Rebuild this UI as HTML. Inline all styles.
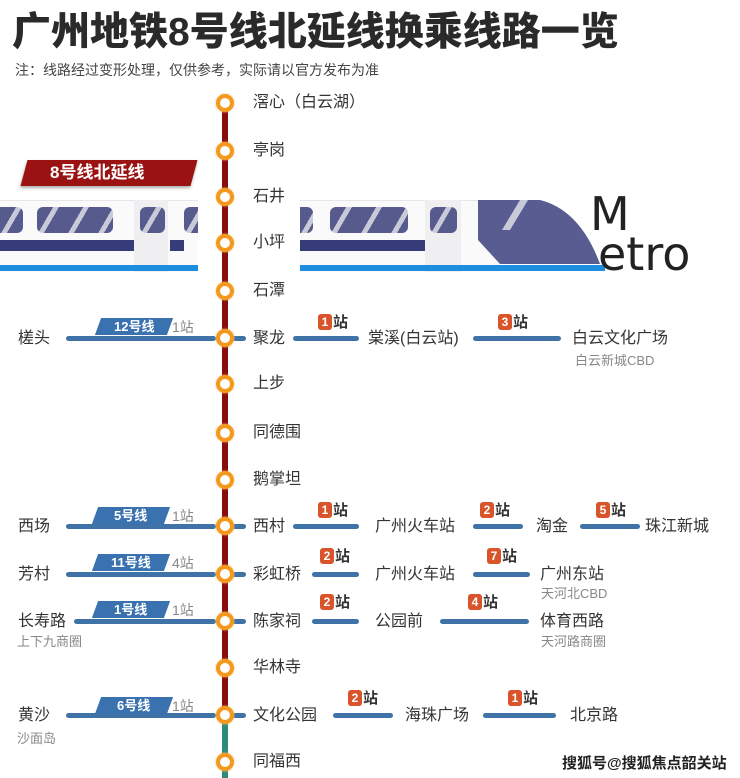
<!DOCTYPE html>
<html><head><meta charset="utf-8"><style>
*{margin:0;padding:0;box-sizing:border-box}
body{width:740px;height:778px;background:#fff;position:relative;overflow:hidden;font-family:"Liberation Sans","Noto Sans CJK SC",sans-serif;color:#333}
.a{position:absolute;white-space:nowrap}
.t{font-size:16px;line-height:20px;color:#333}
.s{font-size:13px;line-height:16px;color:#888}
.h{position:absolute;height:5px;background:#3f72a6;border-radius:3px}
.b{position:absolute;font-size:15px;font-weight:bold;color:#333;line-height:18px;white-space:nowrap}
.b i{display:inline-block;font-style:normal;background:#d9532b;color:#fff;border-radius:3px;width:14px;height:16px;text-align:center;font-size:12px;line-height:16px;margin-right:1px;vertical-align:1px}
.tag{position:absolute;height:17px;width:72px;background:#3a72b0;transform:skewX(-20deg);color:#fff;font-size:13px;font-weight:bold;text-align:center;line-height:17px}
.tag span{display:inline-block;transform:skewX(20deg)}
.c{position:absolute;width:18px;height:18px;border:4px solid #f39a1e;border-radius:50%;background:#fff;box-shadow:0 0 2px #f7c27a}
.w{position:absolute;background:#565a8c repeating-linear-gradient(120deg,transparent 0 14px,#c9cad9 14px 19px,transparent 19px 26px);border-radius:6px}
</style></head><body>
<div class="a" style="left:12px;top:10px;font-size:39px;font-weight:900;line-height:46px;color:#2a2a2a">广州地铁8号线北延线换乘线路一览</div>
<div class="a" style="left:15px;top:60px;font-size:14px;color:#444">注：线路经过变形处理，仅供参考，实际请以官方发布为准</div>

<!-- train -->
<div class="a" style="left:0;top:200px;width:198px;height:72px;background:#fafafb;border-top:1px solid #e6e6ea"></div>
<div class="a" style="left:300px;top:200px;width:200px;height:72px;background:#fafafb;border-top:1px solid #e6e6ea"></div>
<div class="w" style="left:0;top:207px;width:23px;height:26px;border-radius:0 6px 6px 0"></div>
<div class="w" style="left:37px;top:207px;width:76px;height:26px"></div>
<div class="a" style="left:134px;top:200px;width:34px;height:72px;background:#efeff2"></div>
<div class="w" style="left:140px;top:207px;width:25px;height:26px"></div>
<div class="w" style="left:184px;top:207px;width:14px;height:26px;border-radius:6px 0 0 6px"></div>
<div class="a" style="left:0;top:240px;width:134px;height:11px;background:#363c78"></div>
<div class="a" style="left:170px;top:240px;width:14px;height:11px;background:#363c78"></div>
<div class="a" style="left:0;top:265px;width:198px;height:6px;background:#1e8de0"></div>
<div class="w" style="left:300px;top:207px;width:13px;height:26px;border-radius:0 6px 6px 0"></div>
<div class="w" style="left:330px;top:207px;width:78px;height:26px"></div>
<div class="a" style="left:425px;top:200px;width:36px;height:72px;background:#efeff2"></div>
<div class="w" style="left:430px;top:207px;width:27px;height:26px"></div>
<div class="a" style="left:300px;top:240px;width:125px;height:11px;background:#363c78"></div>
<svg class="a" style="left:460px;top:200px" width="150" height="75"><path d="M18 0 L80 0 Q120 10 140 64 L40 64 L18 40 Z" fill="#585c90"/><path d="M60 0 L68 0 L50 30 L42 30Z" fill="#c9cad9"/></svg>
<div class="a" style="left:300px;top:265px;width:305px;height:6px;background:#1e8de0"></div>
<div class="a" style="left:590px;top:190px;font-size:46px;line-height:48px;color:#222;font-family:'DejaVu Sans',sans-serif">M</div>
<div class="a" style="left:598px;top:230px;font-size:46px;line-height:48px;color:#222;font-family:'DejaVu Sans',sans-serif">etro</div>

<!-- 8号线北延线 label -->
<div class="a" style="left:24px;top:160px;width:170px;height:26px;background:#9a1212;transform:skewX(-15deg);box-shadow:0 2px 3px #aaa"></div>
<div class="a" style="left:50px;top:162px;font-size:17px;font-weight:bold;color:#fff;line-height:22px">8号线北延线</div>

<!-- vertical line -->
<div class="a" style="left:222px;top:100px;width:6px;height:615px;background:#8b0c0c"></div>
<div class="a" style="left:222px;top:715px;width:6px;height:63px;background:#2e8a78"></div>

<!-- stations -->
<div class="c" style="left:216px;top:94px"></div><div class="a t" style="left:253px;top:93px">滘心（白云湖）</div>
<div class="c" style="left:216px;top:142px"></div><div class="a t" style="left:253px;top:141px">亭岗</div>
<div class="c" style="left:216px;top:188px"></div><div class="a t" style="left:253px;top:187px">石井</div>
<div class="c" style="left:216px;top:234px"></div><div class="a t" style="left:253px;top:233px">小坪</div>
<div class="c" style="left:216px;top:282px"></div><div class="a t" style="left:253px;top:281px">石潭</div>
<div class="c" style="left:216px;top:375px"></div><div class="a t" style="left:253px;top:374px">上步</div>
<div class="c" style="left:216px;top:424px"></div><div class="a t" style="left:253px;top:423px">同德围</div>
<div class="c" style="left:216px;top:471px"></div><div class="a t" style="left:253px;top:470px">鹅掌坦</div>
<div class="c" style="left:216px;top:659px"></div><div class="a t" style="left:253px;top:658px">华林寺</div>
<div class="c" style="left:216px;top:753px"></div><div class="a t" style="left:253px;top:752px">同福西</div>

<!-- Row 338 -->
<div class="a t" style="left:18px;top:329px">槎头</div>
<div class="h" style="left:66px;top:336px;width:150px"></div>
<div class="tag" style="left:98px;top:318px"><span>12号线</span></div>
<div class="a s" style="left:172px;top:319px;font-size:14px">1站</div>
<div class="h" style="left:232px;top:336px;width:14px"></div>
<div class="c" style="left:216px;top:329px"></div>
<div class="a t" style="left:253px;top:329px">聚龙</div>
<div class="h" style="left:293px;top:336px;width:66px"></div><div class="b" style="left:318px;top:314px"><i>1</i>站</div>
<div class="a t" style="left:368px;top:329px">棠溪(白云站)</div>
<div class="h" style="left:473px;top:336px;width:88px"></div><div class="b" style="left:498px;top:314px"><i>3</i>站</div>
<div class="a t" style="left:572px;top:329px">白云文化广场</div>
<div class="a s" style="left:575px;top:353px">白云新城CBD</div>

<!-- Row 526 -->
<div class="a t" style="left:18px;top:517px">西场</div>
<div class="h" style="left:66px;top:524px;width:150px"></div>
<div class="tag" style="left:95px;top:507px"><span>5号线</span></div>
<div class="a s" style="left:172px;top:508px;font-size:14px">1站</div>
<div class="h" style="left:232px;top:524px;width:14px"></div>
<div class="c" style="left:216px;top:517px"></div>
<div class="a t" style="left:253px;top:517px">西村</div>
<div class="h" style="left:293px;top:524px;width:66px"></div><div class="b" style="left:318px;top:502px"><i>1</i>站</div>
<div class="a t" style="left:375px;top:517px">广州火车站</div>
<div class="h" style="left:473px;top:524px;width:50px"></div><div class="b" style="left:480px;top:502px"><i>2</i>站</div>
<div class="a t" style="left:536px;top:517px">淘金</div>
<div class="h" style="left:580px;top:524px;width:60px"></div><div class="b" style="left:596px;top:502px"><i>5</i>站</div>
<div class="a t" style="left:645px;top:517px">珠江新城</div>

<!-- Row 574 -->
<div class="a t" style="left:18px;top:565px">芳村</div>
<div class="h" style="left:66px;top:572px;width:150px"></div>
<div class="tag" style="left:95px;top:554px"><span>11号线</span></div>
<div class="a s" style="left:172px;top:555px;font-size:14px">4站</div>
<div class="h" style="left:232px;top:572px;width:14px"></div>
<div class="c" style="left:216px;top:565px"></div>
<div class="a t" style="left:253px;top:565px">彩虹桥</div>
<div class="h" style="left:312px;top:572px;width:47px"></div><div class="b" style="left:320px;top:548px"><i>2</i>站</div>
<div class="a t" style="left:375px;top:565px">广州火车站</div>
<div class="h" style="left:473px;top:572px;width:57px"></div><div class="b" style="left:487px;top:548px"><i>7</i>站</div>
<div class="a t" style="left:540px;top:565px">广州东站</div>
<div class="a s" style="left:541px;top:586px">天河北CBD</div>

<!-- Row 621 -->
<div class="a t" style="left:18px;top:612px">长寿路</div>
<div class="a s" style="left:17px;top:634px">上下九商圈</div>
<div class="h" style="left:74px;top:619px;width:142px"></div>
<div class="tag" style="left:95px;top:601px"><span>1号线</span></div>
<div class="a s" style="left:172px;top:602px;font-size:14px">1站</div>
<div class="h" style="left:232px;top:619px;width:14px"></div>
<div class="c" style="left:216px;top:612px"></div>
<div class="a t" style="left:253px;top:612px">陈家祠</div>
<div class="h" style="left:312px;top:619px;width:47px"></div><div class="b" style="left:320px;top:594px"><i>2</i>站</div>
<div class="a t" style="left:375px;top:612px">公园前</div>
<div class="h" style="left:440px;top:619px;width:89px"></div><div class="b" style="left:468px;top:594px"><i>4</i>站</div>
<div class="a t" style="left:540px;top:612px">体育西路</div>
<div class="a s" style="left:541px;top:634px">天河路商圈</div>

<!-- Row 715 -->
<div class="a t" style="left:18px;top:706px">黄沙</div>
<div class="a s" style="left:17px;top:731px">沙面岛</div>
<div class="h" style="left:66px;top:713px;width:150px"></div>
<div class="tag" style="left:98px;top:697px"><span>6号线</span></div>
<div class="a s" style="left:172px;top:698px;font-size:14px">1站</div>
<div class="h" style="left:232px;top:713px;width:14px"></div>
<div class="c" style="left:216px;top:706px"></div>
<div class="a t" style="left:253px;top:706px">文化公园</div>
<div class="h" style="left:333px;top:713px;width:60px"></div><div class="b" style="left:348px;top:690px"><i>2</i>站</div>
<div class="a t" style="left:405px;top:706px">海珠广场</div>
<div class="h" style="left:483px;top:713px;width:73px"></div><div class="b" style="left:508px;top:690px"><i>1</i>站</div>
<div class="a t" style="left:570px;top:706px">北京路</div>

<div class="a" style="left:562px;top:752px;font-size:15px;font-weight:bold;color:#222">搜狐号@搜狐焦点韶关站</div>
</body></html>
